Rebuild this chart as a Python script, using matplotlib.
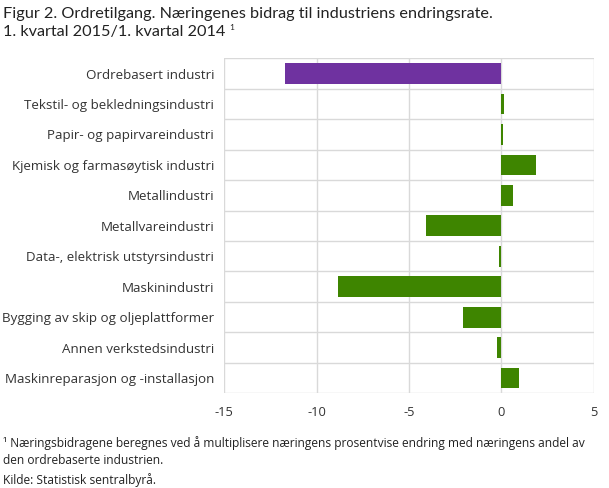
import matplotlib
matplotlib.use("Agg")
import matplotlib.pyplot as plt

categories = [
    "Ordrebasert industri",
    "Tekstil- og bekledningsindustri",
    "Papir- og papirvareindustri",
    "Kjemisk og farmasøytisk industri",
    "Metallindustri",
    "Metallvareindustri",
    "Data-, elektrisk utstyrsindustri",
    "Maskinindustri",
    "Bygging av skip og oljeplattformer",
    "Annen verkstedsindustri",
    "Maskinreparasjon og -installasjon",
]
values = [-11.7, 0.15, 0.08, 1.85, 0.65, -4.1, -0.15, -8.85, -2.05, -0.25, 0.95]
xticks = [-15, -10, -5, 0, 5]

purple = "#6f32a0"
green = "#3e8500"
grid = "#d9d9d9"

plt.rcParams["font.family"] = ["Open Sans", "DejaVu Sans"]

fig = plt.figure(figsize=(6.09, 4.88), dpi=100)
W, H = 609, 488
renderer = fig.canvas.get_renderer()


def fit(t, target_px):
    w = t.get_window_extent(renderer=renderer).width
    t.set_fontsize(t.get_fontsize() * target_px / w)


left, right, top, bottom = 224.3, 593.7, 58.3, 393.3
ax = fig.add_axes([left / W, 1 - bottom / H, (right - left) / W, (bottom - top) / H])

n = len(categories)
ys = list(range(n))
colors = [purple] + [green] * (n - 1)
ax.barh(ys, values, height=0.68, color=colors, zorder=3)
ax.set_ylim(n - 0.5, -0.5)
ax.set_xlim(-15, 5)
ax.set_xticks(xticks)
ax.set_xticklabels([str(t) for t in xticks], fontsize=9.3, color="#333333")
ax.set_yticks(ys)
ax.set_yticklabels(categories, fontsize=9.4, color="#333333")
ax.tick_params(length=0, pad=9.5)
ax.tick_params(axis="y", pad=7.4)
for y in [i - 0.5 for i in range(n + 1)]:
    ax.axhline(y, color=grid, lw=1, zorder=1)
for x in xticks:
    ax.axvline(x, color=grid, lw=1, zorder=1)
for s in ax.spines.values():
    s.set_visible(False)

# size y labels so that the widest matches reference width
labs = ax.get_yticklabels()
fig.canvas.draw()
wmax = max(l.get_window_extent(renderer=renderer).width for l in labs)
ysize = 9.4 * 211 / wmax
for l in labs:
    l.set_fontsize(ysize)

tfam = ["Lato", "DejaVu Sans"]
t1 = fig.text(3 / W, 1 - 14 / H, "Figur 2. Ordretilgang. Næringenes bidrag til industriens endringsrate.",
              fontsize=11.0, family=tfam, va="center", color="#222222")
fit(t1, 488)
t2 = fig.text(3 / W, 1 - 32 / H, "1. kvartal 2015/1. kvartal 2014",
              fontsize=t1.get_fontsize(), family=tfam, va="center", color="#222222")
w2 = t2.get_window_extent(renderer=renderer).x1
fig.text((w2 + 4) / W, 1 - 28 / H, "1", fontsize=6, family=tfam, va="center", color="#222222")

f1 = fig.text(3 / W, 1 - 443 / H, "¹ Næringsbidragene beregnes ved å multiplisere næringens prosentvise endring med næringens andel av",
              fontsize=8.5, va="center", color="#222222")
fit(f1, 584)
fs = f1.get_fontsize()
fig.text(3 / W, 1 - 460 / H, "den ordrebaserte industrien.", fontsize=fs, va="center", color="#222222")
fig.text(3 / W, 1 - 480 / H, "Kilde: Statistisk sentralbyrå.", fontsize=fs, va="center", color="#222222")

fig.savefig("out.png", dpi=100)
